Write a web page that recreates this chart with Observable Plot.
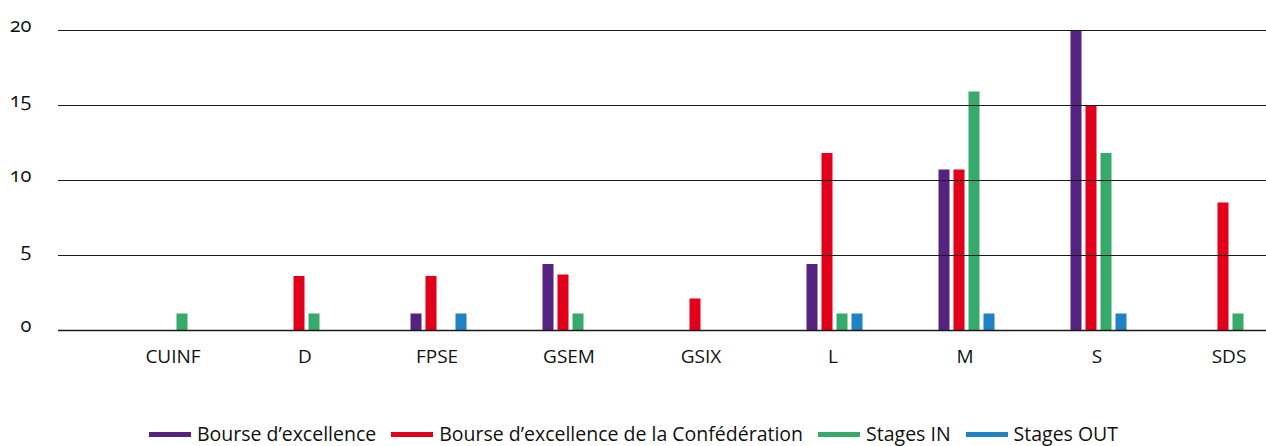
<!DOCTYPE html>
<html>
<head>
<meta charset="utf-8">
<script src="https://cdn.jsdelivr.net/npm/d3@7"></script>
<script src="https://cdn.jsdelivr.net/npm/@observablehq/plot@0.6"></script>
<style>
  html, body { margin: 0; padding: 0; background: #fff; }
  body { width: 1266px; height: 446px; overflow: hidden; font-family: "Open Sans", Lato, sans-serif; }
  #legend { display: flex; justify-content: center; align-items: center; height: 26px; font-size: 19.5px; color: #111; margin-left: 1px; }
  .item { display: flex; align-items: center; margin-right: 15px; }
  .item:last-child { margin-right: 0; }
  .sw { display: inline-block; width: 42px; height: 5px; margin-right: 6px; margin-top: 2px; }
  .ytick text { font-feature-settings: "onum" 1; font-variant-numeric: oldstyle-nums; }
</style>
</head>
<body>
<div id="chart"></div>
<div id="legend"></div>
<script>
const categories = ["CUINF", "D", "FPSE", "GSEM", "GSIX", "L", "M", "S", "SDS"];
const seriesNames = ["Bourse d’excellence", "Bourse d’excellence de la Confédération", "Stages IN", "Stages OUT"];
const seriesColors = ["#55237F", "#E2001A", "#36AA6B", "#1F82C4"];
const bourse    = [0, 0, 1.1, 4.4, 0, 4.4, 10.7, 20, 0];
const confed    = [0, 3.6, 3.6, 3.7, 2.1, 11.8, 10.7, 15, 8.5];
const stagesIn  = [1.1, 1.1, 0, 1.1, 0, 1.1, 15.9, 11.8, 1.1];
const stagesOut = [0, 0, 1.1, 0, 0, 1.1, 1.1, 1.1, 0];
const yTicks = [0, 5, 10, 15, 20];

const seriesValues = [bourse, confed, stagesIn, stagesOut];
const offsets = [-22.5, -7.5, 7.5, 22.5];
const pi = 1 - 11 / 132;

const barMarks = seriesValues.map((vals, i) => {
  const rows = categories.map((c, j) => ({cat: c, value: vals[j]})).filter(d => d.value > 0);
  return Plot.barY(rows, {x: "cat", y: "value", fill: seriesColors[i], dx: offsets[i]});
});

const chart = Plot.plot({
  width: 1266,
  height: 420,
  marginLeft: 58,
  marginRight: 0,
  marginTop: 30,
  marginBottom: 90,
  style: {fontFamily: "'Open Sans', Lato, sans-serif", background: "#fff"},
  x: {type: "band", domain: categories, range: [108, 1296], paddingInner: pi, paddingOuter: pi / 2, axis: null},
  y: {domain: [0, 20], axis: null},
  marks: [
    ...barMarks,
    Plot.ruleY(yTicks, {stroke: "#1a1a1a", strokeWidth: d => d === 0 ? 1.6 : 1.1}),
    Plot.text(yTicks, {y: d => d, text: d => String(d), frameAnchor: "left", dx: -27, textAnchor: "end", lineAnchor: "bottom", dy: 1, fontSize: 20, fill: "#111", className: "ytick"}),
    Plot.text(categories, {x: d => d, text: d => d, frameAnchor: "bottom", dy: 32, dx: -2, fontSize: 19, fill: "#111"})
  ]
});
document.getElementById("chart").appendChild(chart);

const legend = document.getElementById("legend");
seriesNames.forEach((name, i) => {
  const item = document.createElement("div");
  item.className = "item";
  const sw = document.createElement("span");
  sw.className = "sw";
  sw.style.background = seriesColors[i];
  const label = document.createElement("span");
  label.textContent = name;
  item.appendChild(sw);
  item.appendChild(label);
  legend.appendChild(item);
});
</script>
</body>
</html>
